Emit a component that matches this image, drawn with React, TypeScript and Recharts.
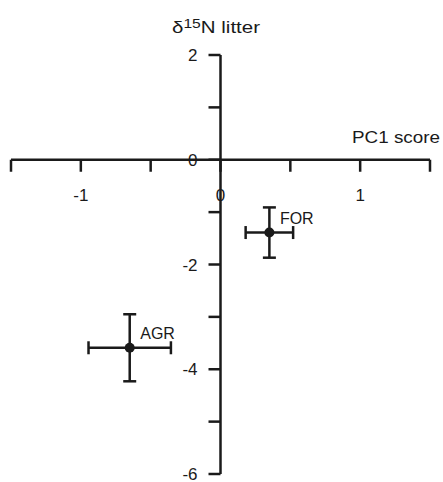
import React from 'react';
import { ScatterChart, Scatter, XAxis, YAxis, ReferenceLine, ErrorBar } from 'recharts';

// site means with standard errors
const sites = ['FOR', 'AGR'];
const pc1Score = [0.35, -0.65];
const pc1Err = [0.17, 0.295];
const d15N = [-1.39, -3.59];
const d15NErr = [0.48, 0.64];

// axis ticks
const xTicks = [-1.5, -1, -0.5, 0, 0.5, 1, 1.5];
const xTickLabels = [-1, 0, 1];
const yTicks = [2, 1, 0, -1, -2, -3, -4, -5, -6];
const yTickLabels = [2, 0, -2, -4, -6];

const INK = '#1a1a1a';
const FONT = '"Liberation Sans", Arial, Helvetica, sans-serif';

const points = sites.map((name, i) => ({
  name,
  x: pc1Score[i],
  y: d15N[i],
  ex: pc1Err[i],
  ey: d15NErr[i],
}));

const xTickData = xTicks.map((v) => ({ x: v, y: 0, label: xTickLabels.includes(v) ? String(v) : '' }));
const yTickData = yTicks.map((v) => ({ x: 0, y: v, label: yTickLabels.includes(v) ? String(v) : '' }));

const XTick = (props: any) => {
  const { cx, cy, payload } = props;
  return (
    <g>
      <line x1={cx} y1={cy} x2={cx} y2={cy + 12} stroke={INK} strokeWidth={2.5} />
      {payload.label && (
        <text x={cx} y={cy + 41} textAnchor="middle" fontSize={17} fontFamily={FONT} fill={INK}>
          {payload.label}
        </text>
      )}
    </g>
  );
};

const YTick = (props: any) => {
  const { cx, cy, payload } = props;
  return (
    <g>
      <line x1={cx} y1={cy} x2={cx - 12} y2={cy} stroke={INK} strokeWidth={2.5} />
      {payload.label && (
        <text x={cx - 23} y={cy + 6} textAnchor="end" fontSize={17} fontFamily={FONT} fill={INK}>
          {payload.label}
        </text>
      )}
    </g>
  );
};

const SiteDot = (props: any) => {
  const { cx, cy, payload } = props;
  return (
    <g>
      <circle cx={cx} cy={cy} r={5} fill={INK} />
      <text x={cx + 10.5} y={cy - 8.7} fontSize={16} fontFamily={FONT} fill={INK}>
        {payload.name}
      </text>
    </g>
  );
};

export default function App() {
  return (
    <div style={{ position: 'relative', width: 443, height: 482, background: '#fff' }}>
      <style>{`body{margin:0}`}</style>
      <ScatterChart width={443} height={482} margin={{ top: 55, right: 13, bottom: 8, left: 11 }}>
        <XAxis dataKey="x" type="number" domain={[-1.5, 1.5]} hide />
        <YAxis dataKey="y" type="number" domain={[-6, 2]} hide />

        {/* axes cross at the origin */}
        <ReferenceLine y={0} stroke={INK} strokeWidth={2.5} />
        <ReferenceLine x={0} stroke={INK} strokeWidth={2.5} />

        <Scatter data={xTickData} shape={XTick} isAnimationActive={false} />
        <Scatter data={yTickData} shape={YTick} isAnimationActive={false} />

        <Scatter data={points} shape={SiteDot} isAnimationActive={false}>
          <ErrorBar dataKey="ex" direction="x" width={6.5} stroke={INK} strokeWidth={2.5} />
          <ErrorBar dataKey="ey" direction="y" width={6.5} stroke={INK} strokeWidth={2.5} />
        </Scatter>
      </ScatterChart>

      <svg width={443} height={482} style={{ position: 'absolute', top: 0, left: 0, pointerEvents: 'none' }}>
        <text x={352} y={143} fontSize={17} fontFamily={FONT} fill={INK} textLength={88} lengthAdjust="spacingAndGlyphs">
          PC1 score
        </text>
        <text x={172} y={33} fontSize={17} fontFamily={FONT} fill={INK} textLength={88} lengthAdjust="spacingAndGlyphs">
          δ
          <tspan fontSize={13} dy={-5}>15</tspan>
          <tspan dy={5}>N litter</tspan>
        </text>
      </svg>
    </div>
  );
}
